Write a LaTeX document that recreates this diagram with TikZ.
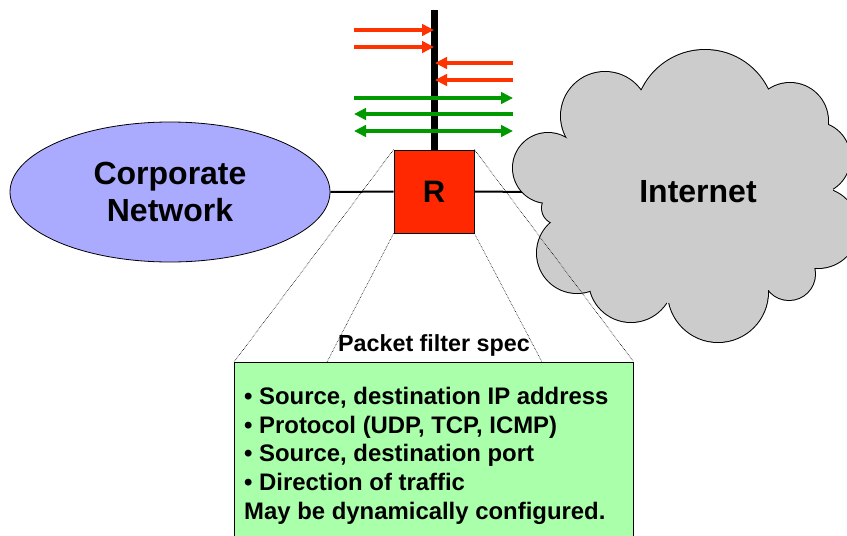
\documentclass[tikz,border=0pt]{standalone}
\usepackage{fontspec}
\setmainfont{Liberation Sans}
\usetikzlibrary{shapes.geometric,arrows.meta}
\definecolor{corpblue}{RGB}{170,170,255}
\definecolor{cloudgray}{RGB}{204,204,204}
\definecolor{routerred}{RGB}{255,40,0}
\definecolor{arrred}{RGB}{255,51,0}
\definecolor{arrgreen}{RGB}{0,153,0}
\definecolor{specgreen}{RGB}{170,255,170}
\begin{document}
\begin{tikzpicture}[x=1pt,y=-1pt,
  bigtext/.style={font=\fontsize{32}{37}\selectfont\bfseries},
  flowred/.style={draw=arrred,line width=3.6pt},
  flowgreen/.style={draw=arrgreen,line width=3.6pt},
  headtip/.style={-{Triangle[length=12pt,width=11.5pt]}},
  tailtip/.style={{Triangle[length=12pt,width=11.5pt]}-},
  bothtip/.style={{Triangle[length=12pt,width=11.5pt]}-{Triangle[length=12pt,width=11.5pt]}},
  zoomline/.style={draw=black,line width=0.6pt,densely dotted},
  link/.style={draw=black,line width=2pt},
  cloudedge/.style={draw=black,line width=2pt},
  cloudfill/.style={fill=cloudgray}
]
\useasboundingbox (0,0) rectangle (847,536);
\clip (0,0) rectangle (847,536);

% corporate network
\node[ellipse, draw=black, line width=0.8pt, fill=corpblue, minimum width=320pt,
      minimum height=140pt, inner sep=0pt, align=center, bigtext] (corp) at (170,192) {Corporate\\Network};

% mast and router
\coordinate (mastTop) at (434,10);
\coordinate (cloudW) at (532,192);
\node[draw=black, line width=0.8pt, fill=routerred, minimum width=80pt, minimum height=83pt,
      inner sep=0pt, font=\fontsize{31}{36}\selectfont\bfseries] (R) at (434,191.5) {R};
\draw[line width=7pt] (mastTop) -- (R.north);
\draw[link] (corp.east) -- (R.west);
\draw[link] (R.east) -- (cloudW);

% cloud
\begin{scope}
\foreach \cx/\cy/\r in {548/168/35,605/116/44,705/120/70,790/121/38,814/158/36,818/228/40,
                        789/274/26,718/292/50,631/280/42,577/253/40,558/208/16}
  {\draw[cloudedge] (\cx,\cy) circle[radius=\r pt];}
\foreach \cx/\cy/\r in {548/168/35,605/116/44,705/120/70,790/121/38,814/158/36,818/228/40,
                        789/274/26,718/292/50,631/280/42,577/253/40,558/208/16}
  {\fill[cloudfill] (\cx,\cy) circle[radius=\r pt];}
\fill[cloudfill] (568,140) -- (642,90) -- (768,90) -- (828,125) -- (833,192) -- (813,268)
   -- (768,290) -- (668,303) -- (593,290) -- (552,223) -- (543,203) -- cycle;
\end{scope}
\node[bigtext] (inet) at (698,192) {Internet};

% traffic arrows
\coordinate (r1s) at (354,30);  \coordinate (r1e) at (434,30);
\coordinate (r2s) at (354,47);  \coordinate (r2e) at (434,47);
\coordinate (r3s) at (513,63);  \coordinate (r3e) at (435,63);
\coordinate (r4s) at (513,80);  \coordinate (r4e) at (435,80);
\coordinate (g1s) at (354,98);  \coordinate (g1e) at (513,98);
\coordinate (g2s) at (354,114); \coordinate (g2e) at (513,114);
\coordinate (g3s) at (354,131); \coordinate (g3e) at (513,131);
\draw[flowred,headtip] (r1s) -- (r1e);
\draw[flowred,headtip] (r2s) -- (r2e);
\draw[flowred,headtip] (r3s) -- (r3e);
\draw[flowred,headtip] (r4s) -- (r4e);
\draw[flowgreen,headtip] (g1s) -- (g1e);
\draw[flowgreen,tailtip] (g2s) -- (g2e);
\draw[flowgreen,bothtip] (g3s) -- (g3e);

% packet filter spec box
\node[draw=black, line width=0.8pt, fill=specgreen, minimum width=399pt, minimum height=200pt,
      anchor=north west, inner sep=0pt] (spec) at (234,362) {};
\coordinate (specL) at (327,362);
\coordinate (specR) at (542,362);
\draw[zoomline] (R.north west) -- (spec.north west);
\draw[zoomline] (R.south west) -- (specL);
\draw[zoomline] (R.south east) -- (specR);
\draw[zoomline] (R.north east) -- (spec.north east);
\node[anchor=base, inner sep=0pt, font=\fontsize{23.3}{28}\selectfont\bfseries] (spectitle) at (434,351) {Packet filter spec};
\node[anchor=north west, inner sep=0pt, align=left, font=\fontsize{23.9}{28.7}\selectfont\bfseries] (items) at (244,387)
  {• Source, destination IP address\\
   • Protocol (UDP, TCP, ICMP)\\
   • Source, destination port\\
   • Direction of traffic\\
   May be dynamically configured.};
\end{tikzpicture}
\end{document}
